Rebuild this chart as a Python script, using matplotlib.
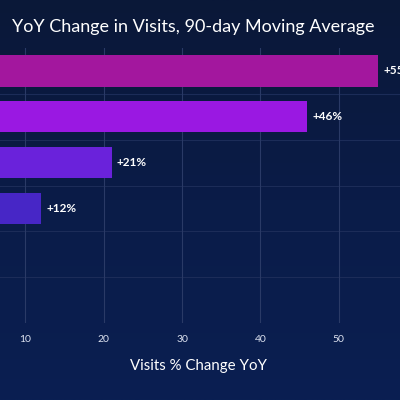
import matplotlib
matplotlib.use("Agg")
import matplotlib.pyplot as plt
import numpy as np
from matplotlib.colors import LinearSegmentedColormap

# values read from the (cropped) reference
values = [55, 46, 21, 12]
labels = ["+55%", "+46%", "+21%", "+12%"]
colors = ["#a3179e", "#9a18e2", "#6a22db", "#4726c6"]
xticks = [10, 20, 30, 40, 50]

plt.rcParams['font.family'] = ['Lato', 'DejaVu Sans']

fig = plt.figure(figsize=(4, 4), dpi=100)
# background gradient
bg = fig.add_axes([0, 0, 1, 1])
grad = np.linspace(0, 1, 256).reshape(-1, 1)
cm = LinearSegmentedColormap.from_list("bg", ["#0a1838", "#0b1c48", "#0a1f52"])
bg.imshow(grad, aspect="auto", cmap=cm, extent=[0, 1, 0, 1], origin="upper")
bg.axis("off")

# axes extends past the left/right edge like the cropped reference
ax = fig.add_axes([-53/400, 77/400, 470/400, 275/400])
ax.patch.set_alpha(0)
y = np.arange(len(values))
ax.barh(y, values, height=0.68, color=colors, zorder=3)
for yi, v, t in zip(y, values, labels):
    ax.text(v + 0.7, yi, t, color="white", fontsize=8.5, fontweight="bold", va="center", zorder=4)
ax.set_xlim(0, 60)
ax.set_ylim(5.5, -0.5)
ax.set_xticks(xticks)
ax.set_xticklabels([str(t) for t in xticks], color="#dde2f0", fontsize=7.5)
ax.set_yticks([])
ax.tick_params(axis="x", length=0, pad=9)
ax.grid(axis="x", color="#2a3a66", lw=0.8, zorder=0)
for b in np.arange(0.5, 5.5, 1):
    ax.axhline(b, color="#1c2c58", lw=0.8, zorder=0)
for s in ax.spines.values():
    s.set_visible(False)

fig.text(12/400, 1 - 27/400, "YoY Change in Visits, 90-day Moving Average",
         color="white", fontsize=13, va="center", ha="left")
fig.text(198/400, 1 - 366/400, "Visits % Change YoY", color="white",
         fontsize=10.8, ha="center", va="center")

fig.savefig("out.png", dpi=100)
